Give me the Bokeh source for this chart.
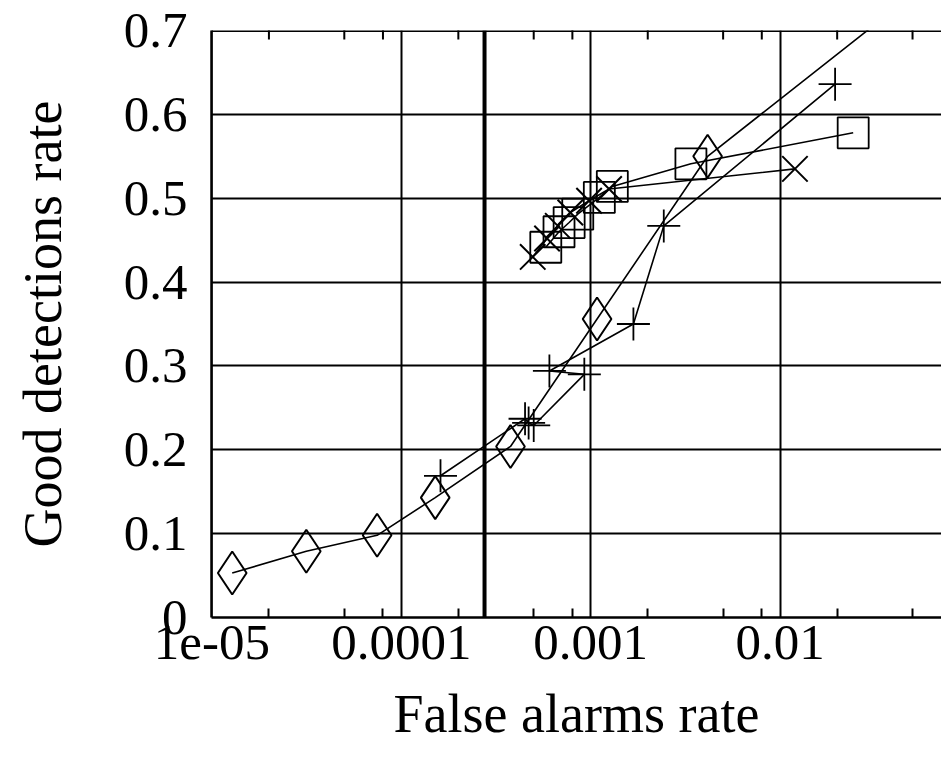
import math
from bokeh.plotting import figure
from bokeh.models import (FixedTicker, CustomJSTickFormatter, Span, Range1d)
from bokeh.embed import file_html
from bokeh.resources import INLINE

# ---- data ----
diamond_x = [1.28e-5, 3.15e-5, 7.45e-5, 1.51e-4, 3.77e-4, 1.08e-3, 4.14e-3, 1.0e-1]
diamond_y = [0.053, 0.079, 0.098, 0.143, 0.204, 0.356, 0.550, 0.796]

plus_x = [1.95e-2, 2.43e-3, 1.68e-3, 6.05e-4, 9.25e-4, 5.0e-4, 4.7e-4, 4.5e-4, 1.61e-4]
plus_y = [0.636, 0.467, 0.350, 0.294, 0.290, 0.229, 0.232, 0.237, 0.169]

square_x = [5.79e-4, 6.8e-4, 7.69e-4, 8.54e-4, 1.11e-3, 1.30e-3, 3.38e-3, 2.43e-2]
square_y = [0.4415, 0.460, 0.471, 0.481, 0.501, 0.514, 0.541, 0.578]

cross_x = [4.94e-4, 5.88e-4, 6.7e-4, 7.8e-4, 9.8e-4, 1.25e-3, 1.197e-2]
cross_y = [0.430, 0.452, 0.467, 0.483, 0.497, 0.511, 0.535]

threshold_x = 2.75e-4

x_ticks = [1e-5, 1e-4, 1e-3, 1e-2]
x_tick_labels = ["1e-05", "0.0001", "0.001", "0.01"]
x_minor_ticks = [2e-5, 5e-5, 8e-5, 2e-4, 5e-4, 8e-4, 2e-3, 5e-3, 8e-3, 2e-2, 5e-2]
y_ticks = [0, 0.1, 0.2, 0.3, 0.4, 0.5, 0.6, 0.7]
y_tick_labels = ["0", "0.1", "0.2", "0.3", "0.4", "0.5", "0.6", "0.7"]

x_label = "False alarms rate"
y_label = "Good detections rate"

FONT = "Liberation Serif"

p = figure(width=941, height=766, x_axis_type="log",
           x_range=Range1d(9.95e-6, 0.0711), y_range=Range1d(y_ticks[0], y_ticks[-1]),
           output_backend="svg", toolbar_location=None,
           min_border_left=211, min_border_right=0, min_border_top=30, min_border_bottom=149)
p.outline_line_color = None
p.background_fill_color = "white"
p.border_fill_color = "white"

fmt_x = CustomJSTickFormatter(args=dict(vals=x_ticks, labels=x_tick_labels), code="""
    for (let i = 0; i < vals.length; i++) {
        if (Math.abs(Math.log10(vals[i]) - Math.log10(tick)) < 1e-6) return labels[i];
    }
    return "";
""")
fmt_y = CustomJSTickFormatter(args=dict(vals=y_ticks, labels=y_tick_labels), code="""
    for (let i = 0; i < vals.length; i++) {
        if (Math.abs(vals[i] - tick) < 1e-6) return labels[i];
    }
    return "";
""")

xt = FixedTicker(ticks=x_ticks, minor_ticks=x_minor_ticks)
yt = FixedTicker(ticks=y_ticks, minor_ticks=[])

xa = p.xaxis[0]
xa.ticker = xt
xa.formatter = fmt_x
ya = p.yaxis[0]
ya.ticker = yt
ya.formatter = fmt_y

for ax in (xa, ya):
    ax.axis_line_width = 2.5
    ax.axis_line_color = "black"
    ax.major_tick_in = 0
    ax.major_tick_out = 0
    ax.minor_tick_in = 9
    ax.minor_tick_out = 0
    ax.minor_tick_line_width = 2
    ax.minor_tick_line_color = "black"
    ax.major_label_text_font = FONT
    ax.major_label_text_font_size = "51px"
    ax.major_label_text_color = "black"
    ax.axis_label_text_font = FONT
    ax.axis_label_text_font_size = "54px"
    ax.axis_label_text_font_style = "normal"
    ax.axis_label_text_color = "black"

xa.axis_label = x_label
xa.major_label_standoff = 8
xa.axis_label_standoff = 22
ya.axis_label = y_label
ya.major_label_standoff = 24
ya.major_label_orientation = "horizontal"
ya.axis_label_standoff = 48

for g in (p.xgrid[0], p.ygrid[0]):
    g.grid_line_color = "black"
    g.grid_line_width = 2
    g.grid_line_alpha = 1.0
p.xgrid[0].ticker = xt
p.ygrid[0].ticker = yt

# thick threshold line and top border
p.add_layout(Span(location=threshold_x, dimension="height", line_color="black",
                  line_width=4, level="underlay"))
p.add_layout(Span(location=y_ticks[-1], dimension="width", line_color="black",
                  line_width=3, level="underlay"))
# mirrored minor ticks on the top border (half of each dash is clipped by the frame)
p.scatter(x_minor_ticks, [y_ticks[-1]] * len(x_minor_ticks), marker="dash",
          angle=math.pi / 2, size=18, line_color="black", line_width=2)

LW = 1.6
p.line(diamond_x, diamond_y, line_color="black", line_width=LW)
p.scatter(diamond_x, diamond_y, marker="diamond", size=43, fill_color=None,
          line_color="black", line_width=2)
p.line(plus_x, plus_y, line_color="black", line_width=LW)
p.scatter(plus_x, plus_y, marker="cross", size=33, line_color="black", line_width=1.8)
p.line(square_x, square_y, line_color="black", line_width=LW)
p.scatter(square_x, square_y, marker="square", size=31, fill_color=None,
          line_color="black", line_width=1.8)
p.line(cross_x, cross_y, line_color="black", line_width=LW)
p.scatter(cross_x, cross_y, marker="x", size=36, line_color="black", line_width=2)

open("out.html", "w").write(file_html(p, INLINE))
